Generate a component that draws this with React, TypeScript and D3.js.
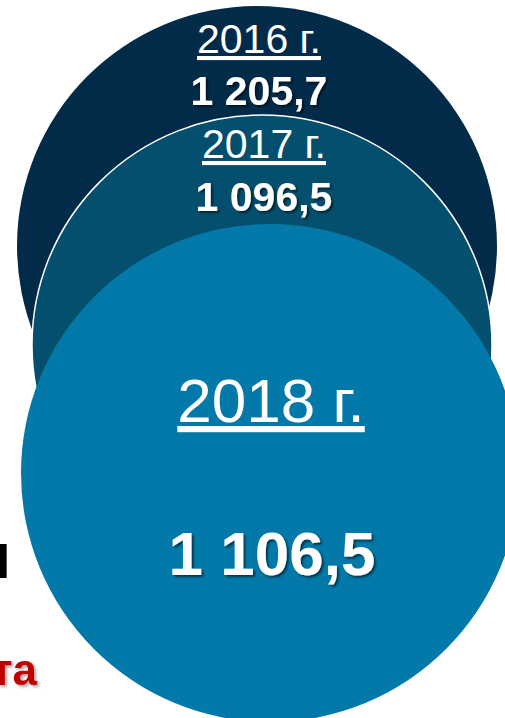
import React from "react";
import * as d3 from "d3";

const years = ["2016 г.", "2017 г.", "2018 г."];
const values = [1205.7, 1096.5, 1106.5];
const fills = ["#022b4a", "#044f6d", "#0279a9"];
const sideWords = ["и", "та"];
const sideColors = ["#000000", "#c00000"];

const W = 505;
const H = 718;

// layout per circle (geometry only)
const layout = [
  { cx: 257, cy: 246, r: 240, yearY: 53, valY: 105, yearSize: 41, valSize: 41, stroke: "none" },
  { cx: 262, cy: 345, r: 230, yearY: 158, valY: 211, yearSize: 41, valSize: 41, stroke: "#ffffff" },
  { cx: 270, cy: 473, r: 249, yearY: 422, valY: 575, yearSize: 62, valSize: 62, stroke: "none" },
];

const fmt = (v: number) => {
  const s = d3.format(",.1f")(v);
  return s.replace(",", " ").replace(".", ",");
};

export default function App() {
  return (
    <svg
      width={W}
      height={H}
      viewBox={`0 0 ${W} ${H}`}
      style={{ position: "absolute", left: 0, top: 0, background: "#ffffff" }}
      fontFamily="'Liberation Sans', Arial, sans-serif"
    >
      <defs>
        <filter id="sh" x="-20%" y="-20%" width="140%" height="140%">
          <feDropShadow dx="2" dy="2" stdDeviation="1.2" floodColor="#000" floodOpacity="0.55" />
        </filter>
        <filter id="shr" x="-20%" y="-20%" width="140%" height="140%">
          <feDropShadow dx="2" dy="2" stdDeviation="1.5" floodColor="#000" floodOpacity="0.35" />
        </filter>
      </defs>
      <rect width={W} height={H} fill="#ffffff" />
      {/* side text fragments (cut off at the left edge in the source slide) */}
      <text x={11} y={578} textAnchor="end" fontSize={64} fontWeight="bold" fill={sideColors[0]}>
        {sideWords[0]}
      </text>
      <text x={37} y={685} textAnchor="end" fontSize={44} fontWeight="bold" fill={sideColors[1]} filter="url(#shr)">
        {sideWords[1]}
      </text>
      {years.map((y, i) => {
        const L = layout[i];
        return (
          <g key={y}>
            <circle cx={L.cx} cy={L.cy} r={L.r} fill={fills[i]} stroke={L.stroke} strokeWidth={L.stroke === "none" ? 0 : 1.5} />
            {i < 2 && (
              <g>
                <text x={L.cx + 2} y={L.yearY} textAnchor="middle" fontSize={L.yearSize} fill="#fff" textDecoration="underline">
                  {y}
                </text>
                <text x={L.cx + 2} y={L.valY} textAnchor="middle" fontSize={L.valSize} fontWeight="bold" fill="#fff" filter="url(#sh)">
                  {fmt(values[i])}
                </text>
              </g>
            )}
          </g>
        );
      })}
      {(() => {
        const L = layout[2];
        return (
          <g>
            <text x={L.cx + 1} y={L.yearY} textAnchor="middle" fontSize={L.yearSize} fill="#fff" textDecoration="underline">
              {years[2]}
            </text>
            <text x={L.cx + 2} y={L.valY} textAnchor="middle" fontSize={L.valSize} fontWeight="bold" fill="#fff" filter="url(#sh)">
              {fmt(values[2])}
            </text>
          </g>
        );
      })()}
    </svg>
  );
}
